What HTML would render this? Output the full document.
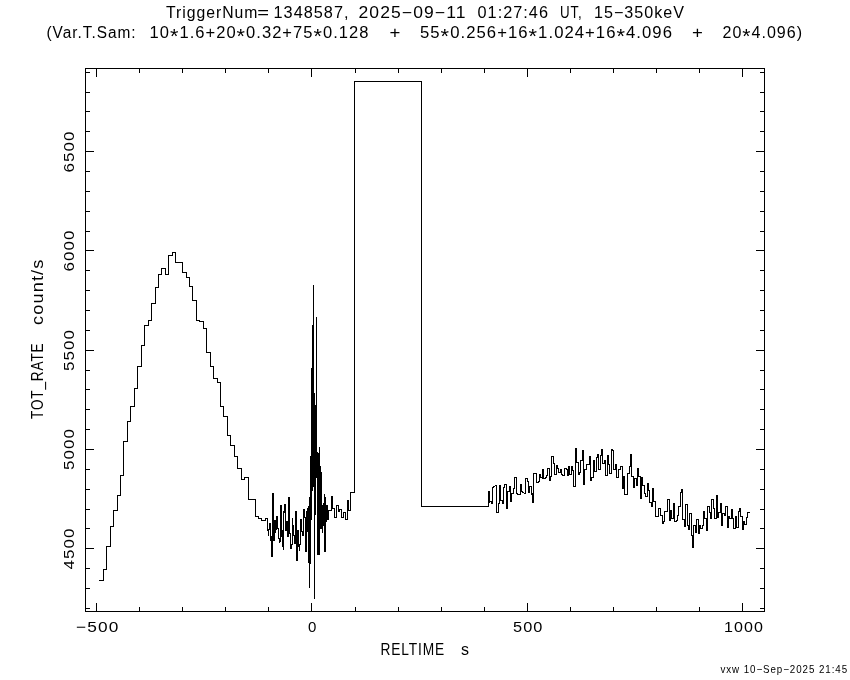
<!DOCTYPE html>
<html><head><meta charset="utf-8"><title>plot</title>
<style>
html,body{margin:0;padding:0;background:#fff;}
body{width:850px;height:680px;overflow:hidden;}
svg{display:block;filter:grayscale(1);}
text{font-family:"Liberation Sans",sans-serif;fill:#000;letter-spacing:1px;}
</style></head><body>
<svg width="850" height="680" viewBox="0 0 850 680">
<rect width="850" height="680" fill="#fff"/>
<path d="M85 68h680v1h-680zM85 611h680v1h-680zM85 68h1v544h-1zM764 68h1v544h-1zM96 603h1v8h-1zM96 69h1v8h-1zM139 607h1v4h-1zM139 69h1v4h-1zM182 607h1v4h-1zM182 69h1v4h-1zM225 607h1v4h-1zM225 69h1v4h-1zM268 607h1v4h-1zM268 69h1v4h-1zM311 603h1v8h-1zM311 69h1v8h-1zM355 607h1v4h-1zM355 69h1v4h-1zM398 607h1v4h-1zM398 69h1v4h-1zM441 607h1v4h-1zM441 69h1v4h-1zM484 607h1v4h-1zM484 69h1v4h-1zM527 603h1v8h-1zM527 69h1v8h-1zM570 607h1v4h-1zM570 69h1v4h-1zM613 607h1v4h-1zM613 69h1v4h-1zM656 607h1v4h-1zM656 69h1v4h-1zM699 607h1v4h-1zM699 69h1v4h-1zM742 603h1v8h-1zM742 69h1v8h-1zM86 608h4v1h-4zM760 608h4v1h-4zM86 588h4v1h-4zM760 588h4v1h-4zM86 568h4v1h-4zM760 568h4v1h-4zM86 548h8v1h-8zM756 548h8v1h-8zM86 528h4v1h-4zM760 528h4v1h-4zM86 509h4v1h-4zM760 509h4v1h-4zM86 489h4v1h-4zM760 489h4v1h-4zM86 469h4v1h-4zM760 469h4v1h-4zM86 449h8v1h-8zM756 449h8v1h-8zM86 429h4v1h-4zM760 429h4v1h-4zM86 409h4v1h-4zM760 409h4v1h-4zM86 389h4v1h-4zM760 389h4v1h-4zM86 370h4v1h-4zM760 370h4v1h-4zM86 350h8v1h-8zM756 350h8v1h-8zM86 330h4v1h-4zM760 330h4v1h-4zM86 310h4v1h-4zM760 310h4v1h-4zM86 290h4v1h-4zM760 290h4v1h-4zM86 270h4v1h-4zM760 270h4v1h-4zM86 250h8v1h-8zM756 250h8v1h-8zM86 231h4v1h-4zM760 231h4v1h-4zM86 211h4v1h-4zM760 211h4v1h-4zM86 191h4v1h-4zM760 191h4v1h-4zM86 171h4v1h-4zM760 171h4v1h-4zM86 151h8v1h-8zM756 151h8v1h-8zM86 131h4v1h-4zM760 131h4v1h-4zM86 111h4v1h-4zM760 111h4v1h-4zM86 92h4v1h-4zM760 92h4v1h-4zM86 72h4v1h-4zM760 72h4v1h-4zM99 580h5v1h-5zM103 569h4v1h-4zM103 569h1v12h-1zM106 546h5v1h-5zM106 546h1v24h-1zM110 526h4v1h-4zM110 526h1v21h-1zM113 510h5v1h-5zM113 510h1v17h-1zM117 495h4v1h-4zM117 495h1v16h-1zM120 475h4v1h-4zM120 475h1v21h-1zM123 441h5v1h-5zM123 441h1v35h-1zM127 421h4v1h-4zM127 421h1v21h-1zM130 406h5v1h-5zM130 406h1v16h-1zM134 388h4v1h-4zM134 388h1v19h-1zM137 366h5v1h-5zM137 366h1v23h-1zM141 345h4v1h-4zM141 345h1v22h-1zM144 325h5v1h-5zM144 325h1v21h-1zM148 320h4v1h-4zM148 320h1v6h-1zM151 303h5v1h-5zM151 303h1v18h-1zM155 287h4v1h-4zM155 287h1v17h-1zM158 274h4v1h-4zM158 274h1v14h-1zM161 268h5v1h-5zM161 268h1v7h-1zM165 274h4v1h-4zM165 268h1v7h-1zM168 255h5v1h-5zM168 255h1v20h-1zM172 252h4v1h-4zM172 252h1v4h-1zM175 262h5v1h-5zM175 252h1v11h-1zM179 262h4v1h-4zM179 262h1v1h-1zM182 272h5v1h-5zM182 262h1v11h-1zM186 277h4v1h-4zM186 272h1v6h-1zM189 286h4v1h-4zM189 277h1v10h-1zM192 300h5v1h-5zM192 286h1v15h-1zM196 320h4v1h-4zM196 300h1v21h-1zM199 321h5v1h-5zM199 320h1v2h-1zM203 328h4v1h-4zM203 321h1v8h-1zM206 352h5v1h-5zM206 328h1v25h-1zM210 366h4v1h-4zM210 352h1v15h-1zM213 378h5v1h-5zM213 366h1v13h-1zM217 382h4v1h-4zM217 378h1v5h-1zM220 406h4v1h-4zM220 382h1v25h-1zM223 416h5v1h-5zM223 406h1v11h-1zM227 435h4v1h-4zM227 416h1v20h-1zM230 445h5v1h-5zM230 435h1v11h-1zM234 456h4v1h-4zM234 445h1v12h-1zM237 468h5v1h-5zM237 456h1v13h-1zM241 479h4v1h-4zM241 468h1v12h-1zM244 477h5v1h-5zM244 477h1v3h-1zM248 499h5v1h-5zM248 477h1v23h-1zM252 499h4v1h-4zM252 499h1v1h-1zM255 516h4v1h-4zM255 499h1v18h-1zM258 518h4v1h-4zM258 516h1v3h-1zM261 520h5v1h-5zM261 518h1v3h-1zM265 518h3v1h-3zM265 518h1v3h-1zM267 518h1v13h-1zM268 529h1v7h-1zM269 523h1v7h-1zM270 523h1v18h-1zM271 536h1v21h-1zM272 493h1v64h-1zM273 493h1v48h-1zM274 520h1v21h-1zM275 520h1v13h-1zM276 516h1v14h-1zM277 516h1v13h-1zM278 528h1v11h-1zM279 538h1v5h-1zM280 505h1v37h-1zM281 505h1v32h-1zM282 530h1v17h-1zM283 511h1v39h-1zM284 504h1v9h-1zM285 504h1v27h-1zM286 521h1v10h-1zM287 521h1v16h-1zM288 497h1v40h-1zM289 497h1v37h-1zM290 533h1v16h-1zM291 544h1v5h-1zM292 518h1v27h-1zM293 525h1v11h-1zM294 535h1v9h-1zM295 511h1v33h-1zM296 511h1v50h-1zM297 530h1v31h-1zM298 530h1v17h-1zM299 544h1v7h-1zM300 519h1v26h-1zM301 519h1v13h-1zM302 531h1v5h-1zM303 509h1v27h-1zM304 509h1v9h-1zM305 517h1v35h-1zM306 511h1v41h-1zM307 508h1v24h-1zM308 506h1v57h-1zM309 497h1v91h-1zM310 456h1v108h-1zM311 368h1v152h-1zM312 325h1v166h-1zM313 285h1v202h-1zM314 393h1v206h-1zM315 405h1v110h-1zM316 317h1v161h-1zM317 452h1v103h-1zM318 453h1v102h-1zM319 447h1v108h-1zM320 466h1v63h-1zM321 472h1v57h-1zM322 505h1v28h-1zM323 503h1v23h-1zM324 494h1v58h-1zM325 497h1v55h-1zM326 505h1v17h-1zM327 505h1v15h-1zM328 510h1v10h-1zM329 510h1v1h-1zM330 510h1v1h-1zM331 496h1v15h-1zM332 496h1v13h-1zM333 508h1v1h-1zM334 508h1v10h-1zM335 517h1v1h-1zM336 505h1v13h-1zM337 505h1v1h-1zM338 505h1v7h-1zM339 509h1v3h-1zM340 509h1v1h-1zM341 509h1v9h-1zM342 517h1v1h-1zM343 512h1v6h-1zM344 512h1v1h-1zM345 512h1v8h-1zM346 519h1v1h-1zM347 500h1v20h-1zM348 500h1v11h-1zM349 510h1v1h-1zM350 492h1v19h-1zM351 492h1v1h-1zM352 492h1v1h-1zM353 492h1v1h-1zM488 491h1v16h-1zM489 491h1v12h-1zM490 501h1v1h-1zM491 501h1v3h-1zM492 487h1v17h-1zM493 486h1v2h-1zM494 486h1v1h-1zM495 485h1v1h-1zM496 485h1v28h-1zM497 512h1v1h-1zM498 503h1v10h-1zM499 485h1v19h-1zM500 485h1v16h-1zM501 500h1v1h-1zM502 500h1v4h-1zM503 487h1v17h-1zM504 484h1v4h-1zM505 484h1v1h-1zM506 484h1v25h-1zM507 491h1v18h-1zM508 491h1v1h-1zM509 486h1v6h-1zM510 486h1v16h-1zM511 493h1v9h-1zM512 493h1v1h-1zM513 488h1v6h-1zM514 477h1v12h-1zM515 477h1v1h-1zM516 477h1v17h-1zM517 493h1v2h-1zM518 494h1v1h-1zM519 494h1v1h-1zM520 484h1v11h-1zM521 484h1v8h-1zM522 491h1v2h-1zM523 492h1v1h-1zM524 493h1v1h-1zM525 478h1v16h-1zM526 478h1v1h-1zM527 478h1v4h-1zM528 481h1v12h-1zM529 486h1v7h-1zM530 486h1v1h-1zM531 486h1v9h-1zM532 493h1v10h-1zM533 473h1v30h-1zM534 473h1v1h-1zM535 473h1v1h-1zM536 473h1v10h-1zM537 482h1v1h-1zM538 481h1v2h-1zM539 474h1v8h-1zM540 474h1v4h-1zM541 477h1v1h-1zM542 469h1v10h-1zM543 469h1v10h-1zM544 478h1v1h-1zM545 477h1v2h-1zM546 475h1v3h-1zM547 468h1v8h-1zM548 468h1v1h-1zM549 468h1v13h-1zM550 476h1v5h-1zM551 456h1v21h-1zM552 456h1v1h-1zM553 456h1v8h-1zM554 463h1v12h-1zM555 474h1v1h-1zM556 465h1v10h-1zM557 465h1v4h-1zM558 468h1v5h-1zM559 472h1v1h-1zM560 469h1v4h-1zM561 469h1v6h-1zM562 474h1v2h-1zM563 475h1v1h-1zM564 468h1v8h-1zM565 468h1v1h-1zM566 468h1v2h-1zM567 469h1v7h-1zM568 466h1v10h-1zM569 466h1v9h-1zM570 474h1v1h-1zM571 466h1v9h-1zM572 466h1v5h-1zM573 470h1v17h-1zM574 486h1v1h-1zM575 448h1v39h-1zM576 448h1v15h-1zM577 462h1v1h-1zM578 462h1v13h-1zM579 472h1v3h-1zM580 460h1v13h-1zM581 460h1v1h-1zM582 450h1v11h-1zM583 450h1v35h-1zM584 469h1v16h-1zM585 469h1v1h-1zM586 464h1v6h-1zM587 464h1v1h-1zM588 464h1v1h-1zM589 456h1v9h-1zM590 456h1v25h-1zM591 477h1v4h-1zM592 477h1v1h-1zM593 460h1v18h-1zM594 460h1v12h-1zM595 471h1v1h-1zM596 457h1v15h-1zM597 454h1v4h-1zM598 454h1v16h-1zM599 469h1v1h-1zM600 455h1v15h-1zM601 449h1v7h-1zM602 449h1v15h-1zM603 463h1v1h-1zM604 460h1v4h-1zM605 460h1v16h-1zM606 475h1v1h-1zM607 455h1v21h-1zM608 455h1v10h-1zM609 464h1v10h-1zM610 473h1v1h-1zM611 449h1v25h-1zM612 449h1v2h-1zM613 450h1v20h-1zM614 469h1v1h-1zM615 464h1v6h-1zM616 464h1v14h-1zM617 477h1v1h-1zM618 469h1v9h-1zM619 469h1v1h-1zM620 466h1v4h-1zM621 466h1v1h-1zM622 466h1v23h-1zM623 476h1v13h-1zM624 476h1v19h-1zM625 494h1v1h-1zM626 494h1v1h-1zM627 473h1v22h-1zM628 473h1v1h-1zM629 466h1v8h-1zM630 454h1v13h-1zM631 454h1v23h-1zM632 476h1v1h-1zM633 476h1v12h-1zM634 478h1v10h-1zM635 478h1v1h-1zM636 478h1v8h-1zM637 468h1v18h-1zM638 468h1v9h-1zM639 476h1v1h-1zM640 476h1v23h-1zM641 477h1v22h-1zM642 477h1v9h-1zM643 485h1v1h-1zM644 485h1v9h-1zM645 493h1v4h-1zM646 496h1v1h-1zM647 483h1v14h-1zM648 483h1v8h-1zM649 490h1v13h-1zM650 502h1v1h-1zM651 502h1v5h-1zM652 488h1v19h-1zM653 488h1v14h-1zM654 501h1v1h-1zM655 501h1v16h-1zM656 516h1v1h-1zM657 516h1v1h-1zM658 508h1v9h-1zM659 508h1v1h-1zM660 508h1v8h-1zM661 515h1v1h-1zM662 515h1v9h-1zM663 521h1v3h-1zM664 511h1v11h-1zM665 511h1v1h-1zM666 511h1v1h-1zM667 499h1v13h-1zM668 499h1v1h-1zM669 499h1v22h-1zM670 510h1v11h-1zM671 510h1v9h-1zM672 518h1v1h-1zM673 503h1v16h-1zM674 503h1v19h-1zM675 521h1v1h-1zM676 520h1v2h-1zM677 515h1v6h-1zM678 506h1v10h-1zM679 506h1v1h-1zM680 492h1v15h-1zM681 489h1v4h-1zM682 489h1v31h-1zM683 519h1v1h-1zM684 519h1v8h-1zM685 504h1v23h-1zM686 504h1v1h-1zM687 504h1v22h-1zM688 525h1v5h-1zM689 513h1v17h-1zM690 513h1v1h-1zM691 513h1v23h-1zM692 535h1v13h-1zM693 525h1v23h-1zM694 525h1v1h-1zM695 525h1v8h-1zM696 519h1v14h-1zM697 519h1v1h-1zM698 519h1v15h-1zM699 525h1v9h-1zM700 525h1v4h-1zM701 528h1v1h-1zM702 525h1v4h-1zM703 511h1v15h-1zM704 511h1v8h-1zM705 518h1v1h-1zM706 518h1v13h-1zM707 506h1v25h-1zM708 506h1v1h-1zM709 506h1v7h-1zM710 512h1v7h-1zM711 499h1v20h-1zM712 499h1v1h-1zM713 499h1v10h-1zM714 508h1v11h-1zM715 518h1v1h-1zM716 495h1v24h-1zM717 495h1v23h-1zM718 512h1v6h-1zM719 512h1v1h-1zM720 503h1v10h-1zM721 503h1v23h-1zM722 513h1v13h-1zM723 513h1v1h-1zM724 513h1v3h-1zM725 506h1v10h-1zM726 506h1v1h-1zM727 506h1v22h-1zM728 516h1v12h-1zM729 516h1v3h-1zM730 518h1v1h-1zM731 509h1v10h-1zM732 509h1v10h-1zM733 518h1v11h-1zM734 528h1v1h-1zM735 516h1v13h-1zM736 516h1v12h-1zM737 527h1v1h-1zM738 511h1v17h-1zM739 508h1v4h-1zM740 508h1v9h-1zM741 516h1v1h-1zM742 516h1v14h-1zM743 521h1v9h-1zM744 521h1v4h-1zM745 524h1v1h-1zM746 517h1v8h-1zM747 512h1v6h-1zM748 512h1v1h-1zM749 512h1v1h-1zM354 81h1v412h-1zM354 81h68v1h-68zM421 81h1v426h-1zM421 506h68v1h-68z" fill="#000" shape-rendering="crispEdges"/>
<text x="166" y="17.6" font-size="16" text-anchor="start" textLength="92.5" lengthAdjust="spacingAndGlyphs">TriggerNum</text>
<text x="257.3" y="17.6" font-size="16" text-anchor="start" textLength="13" lengthAdjust="spacingAndGlyphs">=</text>
<text x="273.5" y="17.6" font-size="16" text-anchor="start" textLength="76" lengthAdjust="spacingAndGlyphs">1348587,</text>
<text x="358.5" y="17.6" font-size="16" text-anchor="start" textLength="108" lengthAdjust="spacingAndGlyphs">2025−09−11</text>
<text x="477.5" y="17.6" font-size="16" text-anchor="start" textLength="71.5" lengthAdjust="spacingAndGlyphs">01:27:46</text>
<text x="560" y="17.6" font-size="16" text-anchor="start" textLength="22.5" lengthAdjust="spacingAndGlyphs">UT,</text>
<text x="594" y="17.6" font-size="16" text-anchor="start" textLength="91" lengthAdjust="spacingAndGlyphs">15−350keV</text>
<text x="46.5" y="37.6" font-size="16" text-anchor="start" textLength="90" lengthAdjust="spacingAndGlyphs">(Var.T.Sam:</text>
<text x="149.5" y="37.6" font-size="16" text-anchor="start" textLength="220" lengthAdjust="spacingAndGlyphs">10<tspan dy="5.5" font-size="21">*</tspan><tspan dy="-5.5">1</tspan>.6+20<tspan dy="5.5" font-size="21">*</tspan><tspan dy="-5.5">0</tspan>.32+75<tspan dy="5.5" font-size="21">*</tspan><tspan dy="-5.5">0</tspan>.128</text>
<text x="389.5" y="37.6" font-size="16" text-anchor="start" textLength="12" lengthAdjust="spacingAndGlyphs">+</text>
<text x="420" y="37.6" font-size="16" text-anchor="start" textLength="253" lengthAdjust="spacingAndGlyphs">55<tspan dy="5.5" font-size="21">*</tspan><tspan dy="-5.5">0</tspan>.256+16<tspan dy="5.5" font-size="21">*</tspan><tspan dy="-5.5">1</tspan>.024+16<tspan dy="5.5" font-size="21">*</tspan><tspan dy="-5.5">4</tspan>.096</text>
<text x="692" y="37.6" font-size="16" text-anchor="start" textLength="12" lengthAdjust="spacingAndGlyphs">+</text>
<text x="722.5" y="37.6" font-size="16" text-anchor="start" textLength="80.5" lengthAdjust="spacingAndGlyphs">20<tspan dy="5.5" font-size="21">*</tspan><tspan dy="-5.5">4</tspan>.096)</text>
<text x="76" y="632" font-size="15" text-anchor="start" textLength="43.5" lengthAdjust="spacingAndGlyphs">−500</text>
<text x="308" y="632" font-size="15" text-anchor="start">0</text>
<text x="513" y="632" font-size="15" text-anchor="start" textLength="30.5" lengthAdjust="spacingAndGlyphs">500</text>
<text x="724" y="632" font-size="15" text-anchor="start" textLength="40" lengthAdjust="spacingAndGlyphs">1000</text>
<text x="380.5" y="655" font-size="16" text-anchor="start" textLength="64.5" lengthAdjust="spacingAndGlyphs">RELTIME</text>
<text x="461" y="655" font-size="16" text-anchor="start">s</text>
<text x="73.6" y="569.4" font-size="15" text-anchor="start" textLength="42" lengthAdjust="spacingAndGlyphs" transform="rotate(-90 73.6 569.4)">4500</text>
<text x="73.6" y="470.1" font-size="15" text-anchor="start" textLength="42" lengthAdjust="spacingAndGlyphs" transform="rotate(-90 73.6 470.1)">5000</text>
<text x="73.6" y="370.9" font-size="15" text-anchor="start" textLength="42" lengthAdjust="spacingAndGlyphs" transform="rotate(-90 73.6 370.9)">5500</text>
<text x="73.6" y="271.6" font-size="15" text-anchor="start" textLength="42" lengthAdjust="spacingAndGlyphs" transform="rotate(-90 73.6 271.6)">6000</text>
<text x="73.6" y="172.4" font-size="15" text-anchor="start" textLength="42" lengthAdjust="spacingAndGlyphs" transform="rotate(-90 73.6 172.4)">6500</text>
<text x="43.1" y="419" font-size="16" text-anchor="start" textLength="76.5" lengthAdjust="spacingAndGlyphs" transform="rotate(-90 43.1 419)">TOT_RATE</text>
<text x="43.1" y="325" font-size="16" text-anchor="start" textLength="66.5" lengthAdjust="spacingAndGlyphs" transform="rotate(-90 43.1 325)">count/s</text>
<text x="720.5" y="672.8" font-size="10.5" text-anchor="start" textLength="127.5" lengthAdjust="spacingAndGlyphs">vxw 10−Sep−2025 21:45</text>
</svg>
</body></html>
